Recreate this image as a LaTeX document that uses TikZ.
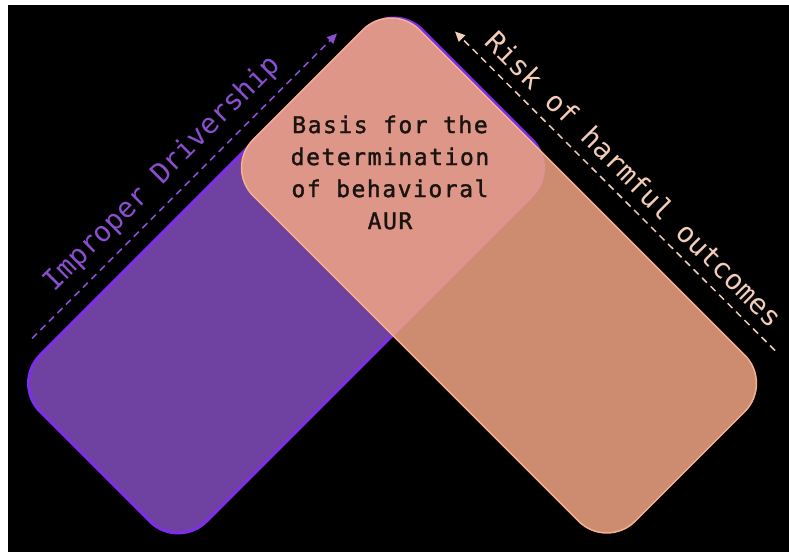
\documentclass[tikz,border=0pt]{standalone}
\usepackage{fontspec}
\setmonofont{DejaVu Sans Mono}
\newfontfamily\basisfont[LetterSpace=6.7,FakeBold=1.5]{DejaVu Sans Mono}
\usetikzlibrary{arrows.meta}
\definecolor{drvfill}{HTML}{6F41A0}
\definecolor{drvline}{HTML}{7E2EEA}
\definecolor{drvtext}{HTML}{8A4FD1}
\definecolor{riskfill}{HTML}{F1A584}
\definecolor{riskline}{HTML}{F6B28E}
\definecolor{risktext}{HTML}{F4CDB8}
\definecolor{basistext}{HTML}{1A1410}

\begin{document}
\begin{tikzpicture}[x=1pt, y=1pt]
        \tikzstyle{band}=[rectangle,rounded corners=40pt,minimum width=540pt,minimum height=235pt,inner sep=0pt]
        \tikzstyle{drv}=[band,fill=drvfill,draw=drvline,line width=3pt,rotate=45]
        \tikzstyle{risk}=[band,fill=riskfill,fill opacity=0.85,draw=riskline,line width=1.5pt,rotate=-45]
        \tikzstyle{side}=[font=\ttfamily\fontsize{28}{30}\selectfont,anchor=base,inner sep=0pt]
        \tikzstyle{axis}=[dash pattern=on 7pt off 5pt,line width=1.5pt,-{Triangle[length=10pt,width=9pt]}]

        \fill[white] (0,0) rectangle (789,548);
        \fill[black] (8,0) rectangle (789,546);

        \node[drv] (D) at (286,276) {};
        \node[risk] (R) at (499,276) {};

        \node[align=center,text=basistext,font=\basisfont\fontsize{23}{32}\selectfont] (B) at (390,379) {Basis for the\\determination\\of behavioral\\AUR};

        \coordinate (D_s) at (32,213);
        \coordinate (D_t) at (337,518);
        \coordinate (R_s) at (775,201);
        \coordinate (R_t) at (455,520);

        \draw[axis,drvtext] (D_s) -- (D_t);
        \draw[axis,risktext] (R_s) -- (R_t);

        \node[side,text=drvtext,rotate=45] (D_l) at (168,372) {Improper Drivership};
        \node[side,text=risktext,rotate=-45] (R_l) at (627,365) {Risk of harmful outcomes};
\end{tikzpicture}
\end{document}
